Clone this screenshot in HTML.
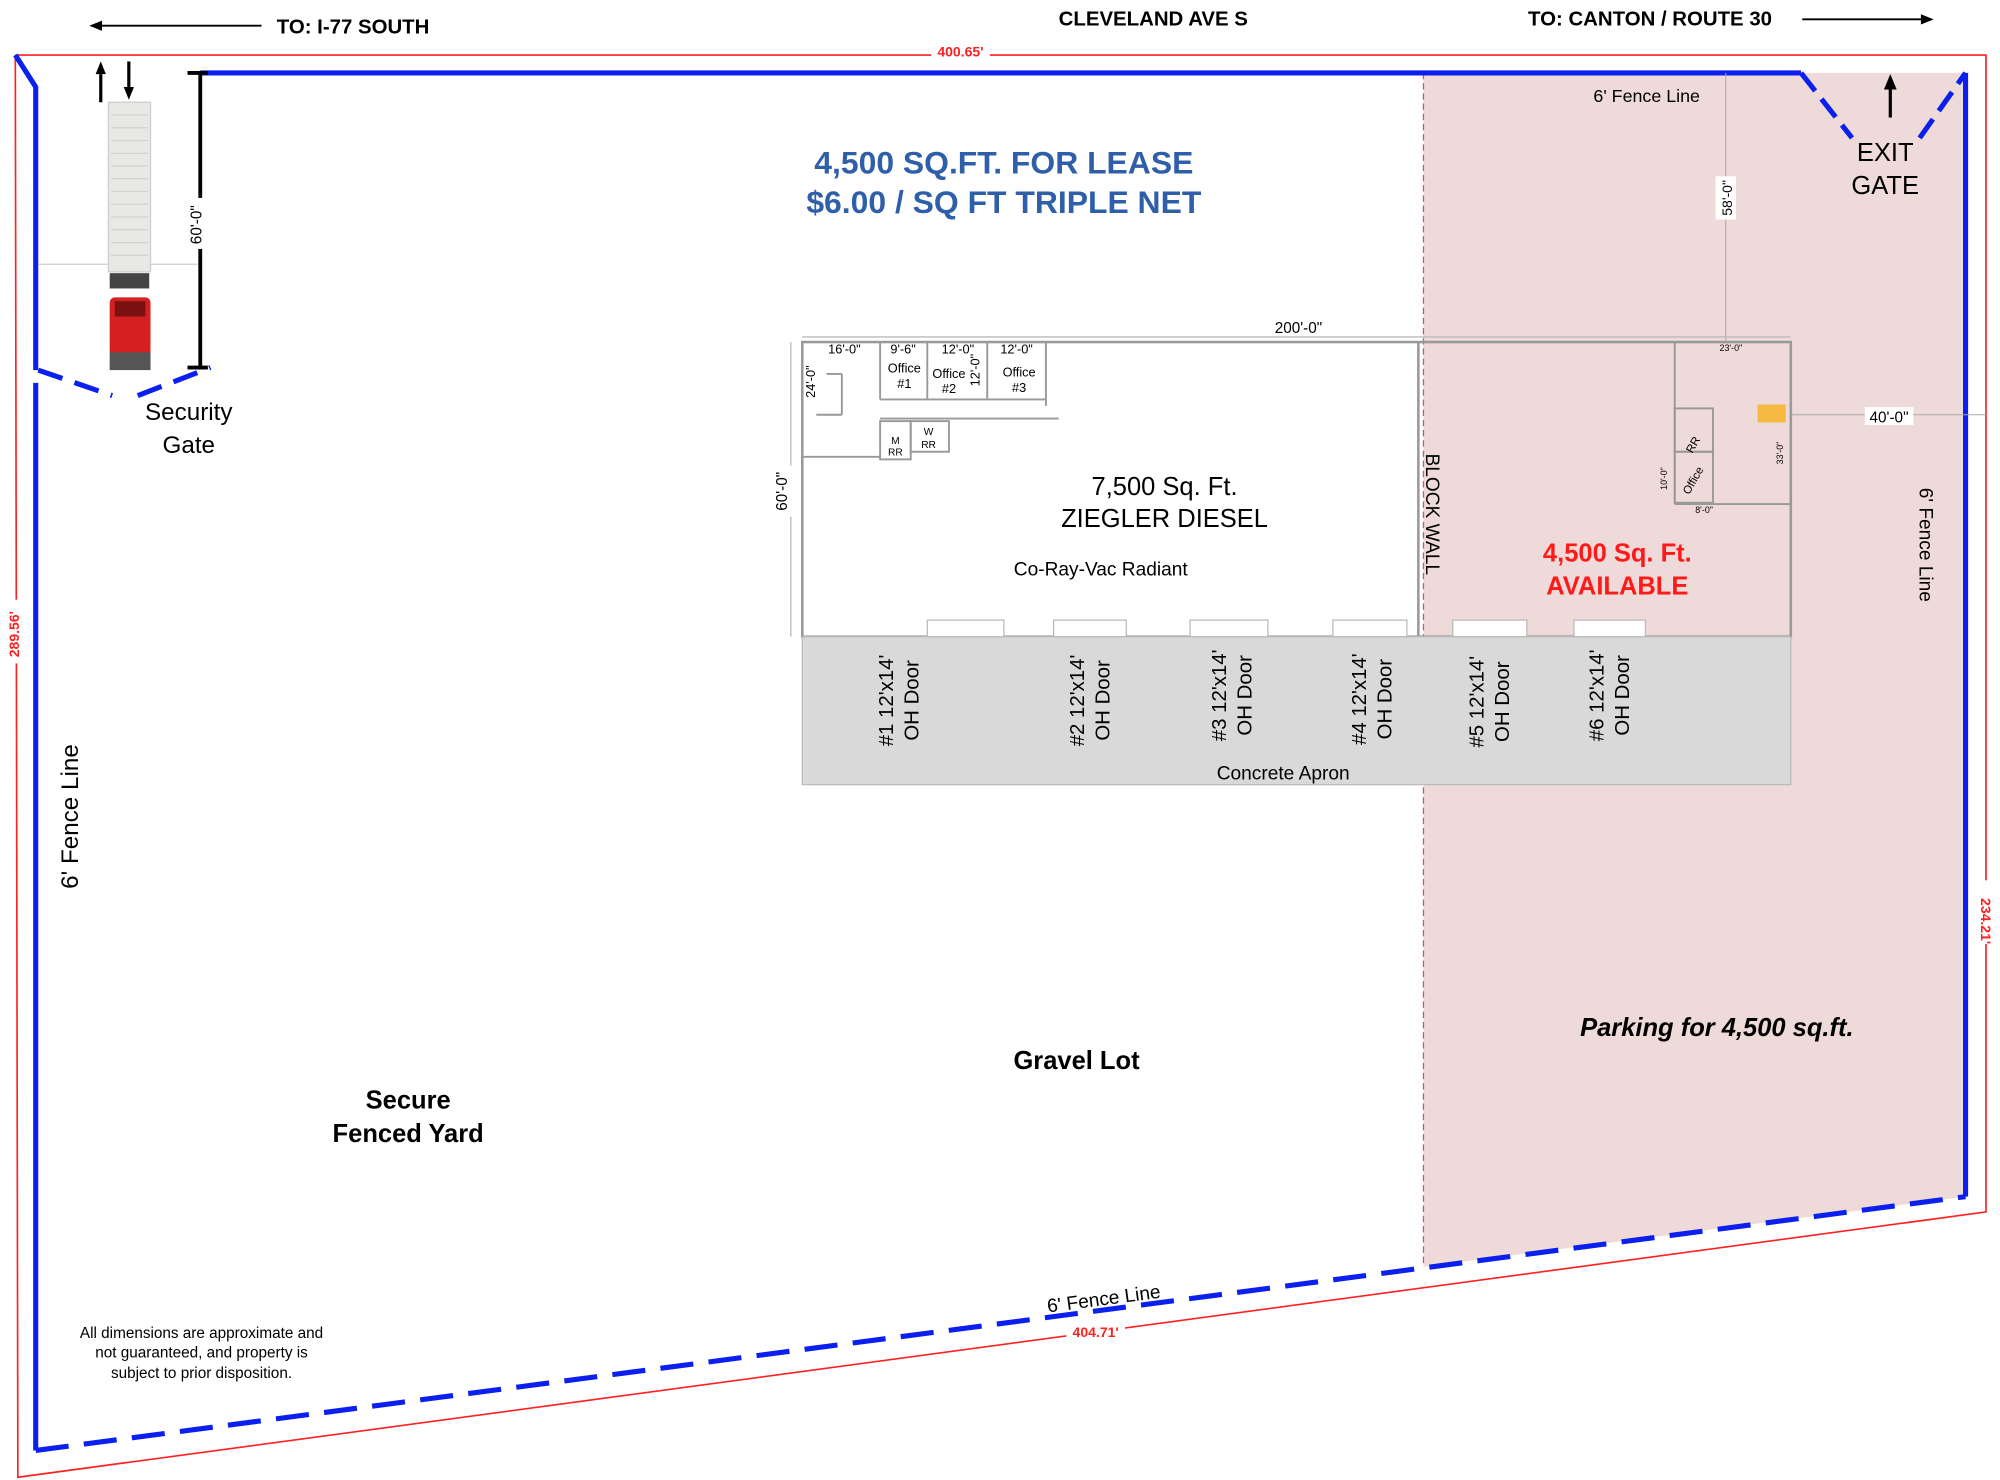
<!DOCTYPE html>
<html><head><meta charset="utf-8"><style>
html,body{margin:0;padding:0;background:#fff;}
svg{display:block;}
text{font-family:"Liberation Sans",sans-serif;}
</style></head><body>
<svg width="2000" height="1480" viewBox="0 0 1568 1160" xmlns="http://www.w3.org/2000/svg">
<!-- pink lease area -->
<polygon points="1116,57 1541,57 1541,938 1116,993" fill="#eedad8"/>
<line x1="1116" y1="57" x2="1116" y2="993" stroke="#e05050" stroke-width="1" stroke-dasharray="5,3"/>
<!-- red property line -->
<polyline points="12,43 1557,43 1557,950 14,1158 12,43" fill="none" stroke="#ff2020" stroke-width="1.3"/>
<rect x="730" y="34" width="46" height="13" fill="#fff"/>
<text x="753" y="44" font-size="11" font-weight="bold" fill="#ff2020" text-anchor="middle">400.65'</text>
<rect x="836" y="1038" width="46" height="13" fill="#fff"/>
<text x="859" y="1048" font-size="11" font-weight="bold" fill="#ff2020" text-anchor="middle">404.71'</text>
<rect x="3" y="470" width="16" height="50" fill="#fff"/>
<text x="15" y="497" font-size="11" font-weight="bold" fill="#ff2020" text-anchor="middle" transform="rotate(-90 15 497)">289.56'</text>
<rect x="1550" y="690" width="16" height="50" fill="#fff"/>
<text x="1553" y="722" font-size="11" font-weight="bold" fill="#ff2020" text-anchor="middle" transform="rotate(90 1553 722)">234.21'</text>
<!-- blue fence -->
<g stroke="#0a1ff0" stroke-width="4" fill="none">
<polyline points="12,43 28,68 28,290"/>
<line x1="28" y1="290" x2="1541" y2="938" stroke="none"/>
<polyline points="28,300 28,1137"/>
<line x1="157" y1="57" x2="1412" y2="57" stroke-width="4"/>
<polyline points="1541,57 1541,938"/>
<line x1="28" y1="1137" x2="1541" y2="938" stroke-dasharray="26,12"/>
<line x1="1412" y1="57" x2="1452" y2="108" stroke-dasharray="18,8"/>
<line x1="1505" y1="108" x2="1541" y2="57" stroke-dasharray="18,8"/>
<line x1="30" y1="290" x2="88" y2="310" stroke-dasharray="20,10"/>
<line x1="108" y1="310" x2="165" y2="288" stroke-dasharray="20,10"/>
</g>
<!-- top labels -->
<line x1="72" y1="20" x2="205" y2="20" stroke="#000" stroke-width="1.5"/>
<polygon points="70,20 80,16 80,24" fill="#000"/>
<text x="217" y="26" font-size="16" font-weight="bold">TO:  I-77 SOUTH</text>
<text x="830" y="20" font-size="16" font-weight="bold">CLEVELAND AVE S</text>
<text x="1198" y="20" font-size="16" font-weight="bold">TO:  CANTON / ROUTE 30</text>
<line x1="1413" y1="15" x2="1508" y2="15" stroke="#000" stroke-width="1.5"/>
<polygon points="1516,15 1506,11 1506,19" fill="#000"/>
<!-- heading -->
<text x="787" y="136" font-size="25" font-weight="bold" fill="#2e5fa8" text-anchor="middle">4,500 SQ.FT. FOR LEASE</text>
<text x="787" y="167" font-size="25" font-weight="bold" fill="#2e5fa8" text-anchor="middle">$6.00 / SQ FT TRIPLE NET</text>
<!-- truck -->
<line x1="30" y1="207" x2="155" y2="207" stroke="#ccc" stroke-width="1"/>
<line x1="79" y1="80" x2="79" y2="58" stroke="#000" stroke-width="2.5"/>
<polygon points="79,48 75,58 83,58" fill="#000"/>
<line x1="101" y1="48" x2="101" y2="68" stroke="#000" stroke-width="2.5"/>
<polygon points="101,78 97,68 105,68" fill="#000"/>
<rect x="85" y="80" width="33" height="133" fill="#e8e8e6" stroke="#ccc"/>
<g stroke="#d2d2d0" stroke-width="1">
<line x1="87" y1="90" x2="116" y2="90"/><line x1="87" y1="100" x2="116" y2="100"/><line x1="87" y1="110" x2="116" y2="110"/><line x1="87" y1="120" x2="116" y2="120"/><line x1="87" y1="130" x2="116" y2="130"/><line x1="87" y1="140" x2="116" y2="140"/><line x1="87" y1="150" x2="116" y2="150"/><line x1="87" y1="160" x2="116" y2="160"/><line x1="87" y1="170" x2="116" y2="170"/><line x1="87" y1="180" x2="116" y2="180"/><line x1="87" y1="190" x2="116" y2="190"/><line x1="87" y1="200" x2="116" y2="200"/>
</g>
<rect x="86" y="214" width="31" height="12" fill="#444"/>
<rect x="86" y="233" width="32" height="46" rx="4" fill="#d42020"/>
<rect x="90" y="236" width="24" height="12" fill="#7a1010"/>
<rect x="86" y="276" width="32" height="14" fill="#555"/>
<!-- 60' dimension -->
<line x1="157" y1="57" x2="157" y2="288" stroke="#000" stroke-width="3"/>
<line x1="147" y1="57" x2="163" y2="57" stroke="#000" stroke-width="3"/>
<line x1="147" y1="288" x2="163" y2="288" stroke="#000" stroke-width="3"/>
<rect x="148" y="155" width="16" height="40" fill="#fff"/>
<text x="158" y="176" font-size="12" text-anchor="middle" transform="rotate(-90 158 176)">60'-0"</text>
<text x="148" y="329" font-size="19" text-anchor="middle">Security</text>
<text x="148" y="355" font-size="19" text-anchor="middle">Gate</text>
<!-- exit gate -->
<line x1="1482" y1="92" x2="1482" y2="68" stroke="#000" stroke-width="2.5"/>
<polygon points="1482,58 1477,70 1487,70" fill="#000"/>
<text x="1478" y="126" font-size="20" text-anchor="middle">EXIT</text>
<text x="1478" y="152" font-size="20" text-anchor="middle">GATE</text>
<text x="1291" y="80" font-size="14" text-anchor="middle">6' Fence Line</text>
<line x1="1353" y1="57" x2="1353" y2="268" stroke="#aaa" stroke-width="0.8"/>
<rect x="1345" y="138" width="16" height="34" fill="#fff"/>
<text x="1358" y="155" font-size="11" text-anchor="middle" transform="rotate(-90 1358 155)">58'-0"</text>
<!-- building -->
<line x1="629" y1="264" x2="1404" y2="264" stroke="#bbb" stroke-width="1"/>
<rect x="629" y="268" width="775" height="231" fill="none" stroke="#999" stroke-width="2"/>
<line x1="1112" y1="268" x2="1112" y2="499" stroke="#999" stroke-width="2"/>
<rect x="995" y="250" width="46" height="13" fill="#fff"/>
<text x="1018" y="261" font-size="12" text-anchor="middle">200'-0"</text>
<line x1="620" y1="268" x2="620" y2="499" stroke="#bbb" stroke-width="1"/>
<rect x="606" y="365" width="16" height="40" fill="#fff"/>
<text x="617" y="385" font-size="12" text-anchor="middle" transform="rotate(-90 617 385)">60'-0"</text>
<!-- offices -->
<g fill="none" stroke="#999" stroke-width="1.5">
<line x1="629" y1="358" x2="690" y2="358"/>
<line x1="690" y1="268" x2="690" y2="313"/>
<line x1="727" y1="268" x2="727" y2="313"/>
<line x1="774" y1="268" x2="774" y2="313"/>
<line x1="820" y1="268" x2="820" y2="318"/>
<line x1="690" y1="313" x2="820" y2="313"/>
<line x1="690" y1="328" x2="830" y2="328"/>
<rect x="690" y="330" width="24" height="30"/>
<rect x="714" y="330" width="30" height="24"/>
<line x1="648" y1="293" x2="660" y2="293"/><line x1="660" y1="293" x2="660" y2="325"/><line x1="640" y1="325" x2="660" y2="325"/>
</g>
<g font-size="10" text-anchor="middle">
<text x="662" y="277">16'-0"</text><text x="708" y="277">9'-6"</text><text x="751" y="277">12'-0"</text><text x="797" y="277">12'-0"</text>
<text x="709" y="292">Office</text><text x="709" y="304">#1</text>
<text x="744" y="296">Office</text><text x="744" y="308">#2</text>
<text x="799" y="295">Office</text><text x="799" y="307">#3</text>
<text x="639" y="299" transform="rotate(-90 639 299)">24'-0"</text>
<text x="768" y="290" transform="rotate(-90 768 290)">12'-0"</text>
<text x="702" y="348" font-size="8">M</text><text x="702" y="357" font-size="8">RR</text>
<text x="728" y="341" font-size="8">W</text><text x="728" y="351" font-size="8">RR</text>
</g>
<text x="913" y="388" font-size="20" text-anchor="middle">7,500 Sq. Ft.</text>
<text x="913" y="413" font-size="20" text-anchor="middle">ZIEGLER DIESEL</text>
<text x="863" y="451" font-size="15" text-anchor="middle">Co-Ray-Vac Radiant</text>
<text x="1118" y="403" font-size="15" text-anchor="middle" transform="rotate(90 1118 403)">BLOCK WALL</text>
<text x="1268" y="440" font-size="20" font-weight="bold" fill="#ff1a1a" text-anchor="middle">4,500 Sq. Ft.</text>
<text x="1268" y="466" font-size="20" font-weight="bold" fill="#ff1a1a" text-anchor="middle">AVAILABLE</text>
<!-- right office -->
<g fill="none" stroke="#999" stroke-width="1.5">
<line x1="1313" y1="268" x2="1313" y2="395"/>
<line x1="1313" y1="395" x2="1404" y2="395"/>
<rect x="1313" y="320" width="30" height="34"/>
<rect x="1313" y="354" width="30" height="40"/>
</g>
<rect x="1378" y="317" width="22" height="14" fill="#f5b942"/>
<text x="1357" y="275" font-size="7" text-anchor="middle">23'-0"</text>
<text x="1336" y="402" font-size="7" text-anchor="middle">8'-0"</text>
<text x="1398" y="355" font-size="7" text-anchor="middle" transform="rotate(-90 1398 355)">33'-0"</text>
<text x="1307" y="375" font-size="7" text-anchor="middle" transform="rotate(-90 1307 375)">10'-0"</text>
<text x="1330" y="350" font-size="9" text-anchor="middle" transform="rotate(-60 1330 350)">RR</text>
<text x="1330" y="378" font-size="9" text-anchor="middle" transform="rotate(-60 1330 378)">Office</text>
<line x1="1404" y1="325" x2="1557" y2="325" stroke="#aaa" stroke-width="0.8"/>
<rect x="1462" y="319" width="38" height="14" fill="#fff"/>
<text x="1481" y="331" font-size="12" text-anchor="middle">40'-0"</text>
<!-- apron -->
<rect x="629" y="499" width="775" height="116" fill="#d9d9d9" stroke="#bbb"/>
<g fill="#fff" stroke="#bbb" stroke-width="1">
<rect x="727" y="486" width="60" height="13"/><rect x="826" y="486" width="57" height="13"/><rect x="933" y="486" width="61" height="13"/><rect x="1045" y="486" width="58" height="13"/><rect x="1139" y="486" width="58" height="13"/><rect x="1234" y="486" width="56" height="13"/>
</g>
<g font-size="16" text-anchor="middle">
<text transform="translate(700,549) rotate(-90)"><tspan x="0" y="0">#1 12'x14'</tspan><tspan x="0" y="20">OH Door</tspan></text>
<text transform="translate(850,549) rotate(-90)"><tspan x="0" y="0">#2 12'x14'</tspan><tspan x="0" y="20">OH Door</tspan></text>
<text transform="translate(961,545) rotate(-90)"><tspan x="0" y="0">#3 12'x14'</tspan><tspan x="0" y="20">OH Door</tspan></text>
<text transform="translate(1071,548) rotate(-90)"><tspan x="0" y="0">#4 12'x14'</tspan><tspan x="0" y="20">OH Door</tspan></text>
<text transform="translate(1163,550) rotate(-90)"><tspan x="0" y="0">#5 12'x14'</tspan><tspan x="0" y="20">OH Door</tspan></text>
<text transform="translate(1257,545) rotate(-90)"><tspan x="0" y="0">#6 12'x14'</tspan><tspan x="0" y="20">OH Door</tspan></text>
</g>
<text x="1006" y="611" font-size="15" text-anchor="middle">Concrete Apron</text>
<!-- yard labels -->
<text x="61" y="640" font-size="19" text-anchor="middle" transform="rotate(-90 61 640)">6' Fence Line</text>
<text x="1505" y="427" font-size="15" text-anchor="middle" transform="rotate(90 1505 427)">6' Fence Line</text>
<text x="1346" y="812" font-size="20" font-weight="bold" font-style="italic" text-anchor="middle">Parking for 4,500 sq.ft.</text>
<text x="844" y="838" font-size="20" font-weight="bold" text-anchor="middle">Gravel Lot</text>
<text x="320" y="869" font-size="20" font-weight="bold" text-anchor="middle">Secure</text>
<text x="320" y="895" font-size="20" font-weight="bold" text-anchor="middle">Fenced Yard</text>
<text x="866" y="1023" font-size="15" text-anchor="middle" transform="rotate(-7.5 866 1023)">6' Fence Line</text>
<g font-size="12" text-anchor="middle">
<text x="158" y="1049">All dimensions are approximate and</text>
<text x="158" y="1064">not guaranteed, and property is</text>
<text x="158" y="1080">subject to prior disposition.</text>
</g>
</svg>
</body></html>
